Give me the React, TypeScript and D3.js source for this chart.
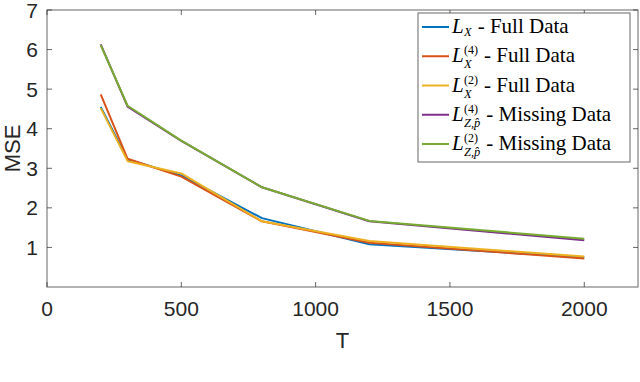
import React, { useRef, useEffect } from "react";
import * as d3 from "d3";

// sample sizes on the x axis
const T = [200, 300, 500, 800, 1200, 2000];

// MSE per loss / data setting
const lxFull = [4.55, 3.22, 2.82, 1.74, 1.08, 0.75];
const lx4Full = [4.87, 3.24, 2.79, 1.66, 1.12, 0.72];
const lx2Full = [4.52, 3.18, 2.87, 1.66, 1.16, 0.77];
const lz4Missing = [6.13, 4.56, 3.69, 2.52, 1.66, 1.18];
const lz2Missing = [6.11, 4.58, 3.70, 2.52, 1.67, 1.22];

const xTicks = [0, 500, 1000, 1500, 2000];
const yTicks = [1, 2, 3, 4, 5, 6, 7];

const series = [
  { name: "lx", vals: lxFull, color: "#0072BD", sup: "", sub: "X", label: "- Full Data" },
  { name: "lx4", vals: lx4Full, color: "#D95319", sup: "(4)", sub: "X", label: "- Full Data" },
  { name: "lx2", vals: lx2Full, color: "#EDB120", sup: "(2)", sub: "X", label: "- Full Data" },
  { name: "lz4", vals: lz4Missing, color: "#7E2F8E", sup: "(4)", sub: "Z,p\u0302", label: "- Missing Data" },
  { name: "lz2", vals: lz2Missing, color: "#77AC30", sup: "(2)", sub: "Z,p\u0302", label: "- Missing Data" },
];

function Chart() {
  const ref = useRef<HTMLDivElement>(null);

  const W = 640, H = 382;
  const margin = { top: 10, right: 2, bottom: 95, left: 47 };

  useEffect(() => {
    if (!ref.current) return;
    document.body.style.margin = "0";
    d3.select(ref.current).selectAll("*").remove();

    const width = W - margin.left - margin.right;
    const height = H - margin.top - margin.bottom;
    const axisCol = "#262626";
    const sans = "'Liberation Sans', Arial, sans-serif";

    const svg = d3.select(ref.current)
      .append("svg")
      .attr("width", W)
      .attr("height", H)
      .style("display", "block")
      .style("background", "#fff");

    const g = svg.append("g")
      .attr("transform", "translate(" + margin.left + "," + margin.top + ")");

    const x = d3.scaleLinear().domain([0, 2200]).range([0, width]);
    const y = d3.scaleLinear().domain([0, 7]).range([height, 0]);

    // box
    g.append("rect")
      .attr("x", 0).attr("y", 0)
      .attr("width", width).attr("height", height)
      .attr("fill", "none")
      .attr("stroke", axisCol)
      .attr("stroke-opacity", 0.7)
      .attr("stroke-width", 1);

    const tick = 5;
    // x ticks bottom + top, inward
    xTicks.forEach((t) => {
      g.append("line").attr("x1", x(t)).attr("x2", x(t)).attr("y1", height).attr("y2", height - tick)
        .attr("stroke", axisCol).attr("stroke-opacity", 0.7);
      g.append("line").attr("x1", x(t)).attr("x2", x(t)).attr("y1", 0).attr("y2", tick)
        .attr("stroke", axisCol).attr("stroke-opacity", 0.7);
      g.append("text")
        .attr("x", x(t)).attr("y", height + 29)
        .attr("text-anchor", "middle")
        .attr("font-family", sans).attr("font-size", 21)
        .attr("fill", axisCol)
        .text(String(t));
    });
    yTicks.forEach((t) => {
      g.append("line").attr("x1", 0).attr("x2", tick).attr("y1", y(t)).attr("y2", y(t))
        .attr("stroke", axisCol).attr("stroke-opacity", 0.7);
      g.append("line").attr("x1", width).attr("x2", width - tick).attr("y1", y(t)).attr("y2", y(t))
        .attr("stroke", axisCol).attr("stroke-opacity", 0.7);
      g.append("text")
        .attr("x", -9).attr("y", y(t))
        .attr("dy", "0.36em")
        .attr("text-anchor", "end")
        .attr("font-family", sans).attr("font-size", 21)
        .attr("fill", axisCol)
        .text(String(t));
    });

    g.append("text")
      .attr("x", x(1100)).attr("y", height + 61)
      .attr("text-anchor", "middle")
      .attr("font-family", sans).attr("font-size", 22)
      .attr("fill", axisCol)
      .text("T");

    g.append("text")
      .attr("transform", "rotate(-90)")
      .attr("x", -y(3.5)).attr("y", -27)
      .attr("text-anchor", "middle")
      .attr("font-family", sans).attr("font-size", 22)
      .attr("fill", axisCol)
      .text("MSE");

    const line = d3.line<number>()
      .x((d, i) => x(T[i]))
      .y((d) => y(d));

    series.forEach((s) => {
      g.append("path")
        .datum(s.vals)
        .attr("d", line)
        .attr("fill", "none")
        .attr("stroke", s.color)
        .attr("stroke-width", 2)
        .attr("stroke-linejoin", "round");
    });

    // legend
    const serif = "'Liberation Serif', 'Times New Roman', serif";
    const lg = svg.append("g").attr("transform", "translate(418,13)");
    lg.append("rect")
      .attr("x", 0).attr("y", 0).attr("width", 212).attr("height", 149)
      .attr("fill", "#fff").attr("stroke", axisCol).attr("stroke-opacity", 0.7);

    const rowY = d3.scaleLinear().domain([0, 4]).range([14, 131]);
    series.forEach((s, i) => {
      const cy = rowY(i);
      const row = lg.append("g");
      row.append("line")
        .attr("x1", 4).attr("x2", 31).attr("y1", cy).attr("y2", cy)
        .attr("stroke", s.color).attr("stroke-width", 2);
      const base = cy + 6;
      row.append("text")
        .attr("x", 34).attr("y", base)
        .attr("font-family", serif).attr("font-style", "italic").attr("font-size", 21)
        .attr("fill", "#000")
        .text("L");
      const subT = row.append("text")
        .attr("x", 46).attr("y", base + (s.sup ? 6 : 3))
        .attr("font-family", serif).attr("font-style", "italic").attr("font-size", 12.5)
        .attr("fill", "#000")
        .text(s.sub);
      let w = (subT.node() as SVGTextElement).getComputedTextLength();
      if (s.sup) {
        const supT = row.append("text")
          .attr("x", 46).attr("y", base - 8)
          .attr("font-family", serif).attr("font-size", 12)
          .attr("fill", "#000")
          .text(s.sup);
        w = Math.max(w, (supT.node() as SVGTextElement).getComputedTextLength());
      }
      row.append("text")
        .attr("x", 46 + w + 6).attr("y", base)
        .attr("font-family", serif).attr("font-size", 21)
        .attr("fill", "#000")
        .text(s.label);
    });
  }, []);

  return <div className="graph" ref={ref}></div>;
}

export default function App() {
  return <Chart />;
}
